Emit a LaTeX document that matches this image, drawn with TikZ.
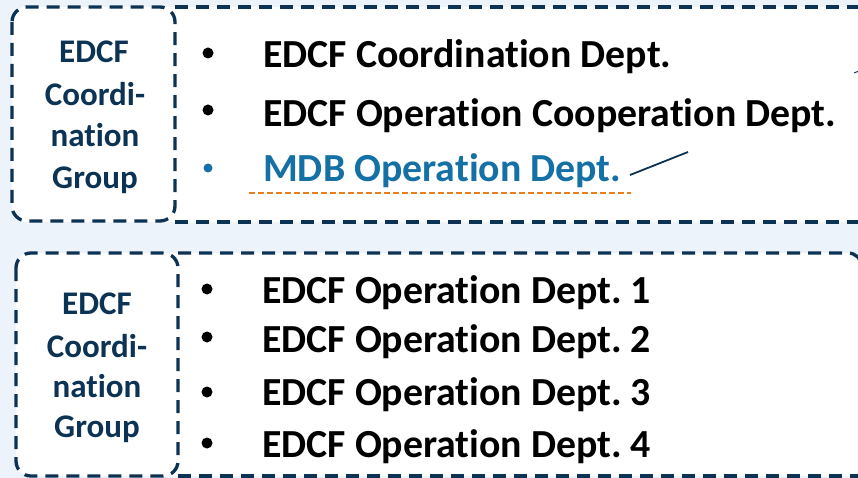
\documentclass[tikz,border=0pt]{standalone}
\usepackage{fontspec}
\setmainfont[Ligatures={NoCommon}]{Carlito}
\definecolor{bgblue}{RGB}{237,243,250}
\definecolor{navy}{RGB}{12,50,84}
\definecolor{mdbblue}{RGB}{20,112,165}
\definecolor{orng}{RGB}{232,125,30}
\tikzset{
  dashbox/.style={draw=navy, line width=3.3pt, dash pattern=on 13pt off 8pt},
  grouptext/.style={anchor=base, text=navy, font=\fontsize{33}{38}\selectfont\bfseries, inner sep=0pt},
  itemtext/.style={anchor=base west, text=black, font=\fontsize{39.8}{44}\selectfont\bfseries, inner sep=0pt},
  dot/.style={circle, fill=black, minimum size=11pt, inner sep=0pt},
}
\begin{document}
\begin{tikzpicture}[x=1pt,y=-1pt]
\useasboundingbox (0,0) rectangle (858,478);
\clip (0,0) rectangle (858,478);
\fill[bgblue] (0,0) rectangle (858,478);
% top panel
\fill[white, rounded corners=14pt] (12,7) rectangle (880,222);
\draw[dashbox] (175,7) -- (880,7);
\draw[dashbox] (175,222) -- (880,222);
\draw[dashbox, rounded corners=15pt] (12,7) rectangle (175,221);
% bottom panel
\fill[white, rounded corners=14pt] (16,253) rectangle (862,476);
\draw[dashbox] (178,253) -- (848,253) arc[start angle=90,end angle=0,radius=14pt] -- (862,480);
\draw[dashbox] (178,476) -- (880,476);
\draw[dashbox, rounded corners=15pt] (16,253) rectangle (178,476);
% group labels top
\node[grouptext] (g1a) at (94,63) {EDCF};
\node[grouptext] (g1b) at (95,106) {Coordi-};
\node[grouptext] (g1c) at (95,147) {nation};
\node[grouptext] (g1d) at (95,189) {Group};
% group labels bottom
\node[grouptext] (g2a) at (97,314) {EDCF};
\node[grouptext] (g2b) at (97,357) {Coordi-};
\node[grouptext] (g2c) at (97,397) {nation};
\node[grouptext] (g2d) at (97,437) {Group};
% top items
\node[dot] (b1) at (208,53) {};
\node[dot] (b2) at (208,110) {};
\node[dot, fill=mdbblue, minimum size=9pt] (b3) at (208,168) {};
\node[itemtext] (t1) at (263,68) {EDCF Coordination Dept.};
\node[itemtext] (t2) at (263,127) {EDCF Operation Cooperation Dept.};
\node[itemtext, text=mdbblue] (t3) at (263,182) {MDB Operation Dept.};
\coordinate (u1) at (249,193);
\coordinate (u2) at (631,193);
\draw[orng, line width=2.2pt, dash pattern=on 6pt off 3pt] (u1) -- (u2);
\coordinate (l1) at (630,175);
\coordinate (l2) at (688,152);
\draw[navy, line width=1.8pt] (l1) -- (l2);
\coordinate (m1) at (854,73);
\coordinate (m2) at (859,71);
\draw[navy, line width=1pt] (m1) -- (m2);
% bottom items
\node[dot] (c1) at (207,289) {};
\node[dot] (c2) at (207,337) {};
\node[dot] (c3) at (207,392) {};
\node[dot] (c4) at (207,443) {};
\node[itemtext] (s1) at (262,303) {EDCF Operation Dept.~1};
\node[itemtext] (s2) at (262,352) {EDCF Operation Dept.~2};
\node[itemtext] (s3) at (262,405) {EDCF Operation Dept.~3};
\node[itemtext] (s4) at (262,457) {EDCF Operation Dept.~4};
\end{tikzpicture}
\end{document}
